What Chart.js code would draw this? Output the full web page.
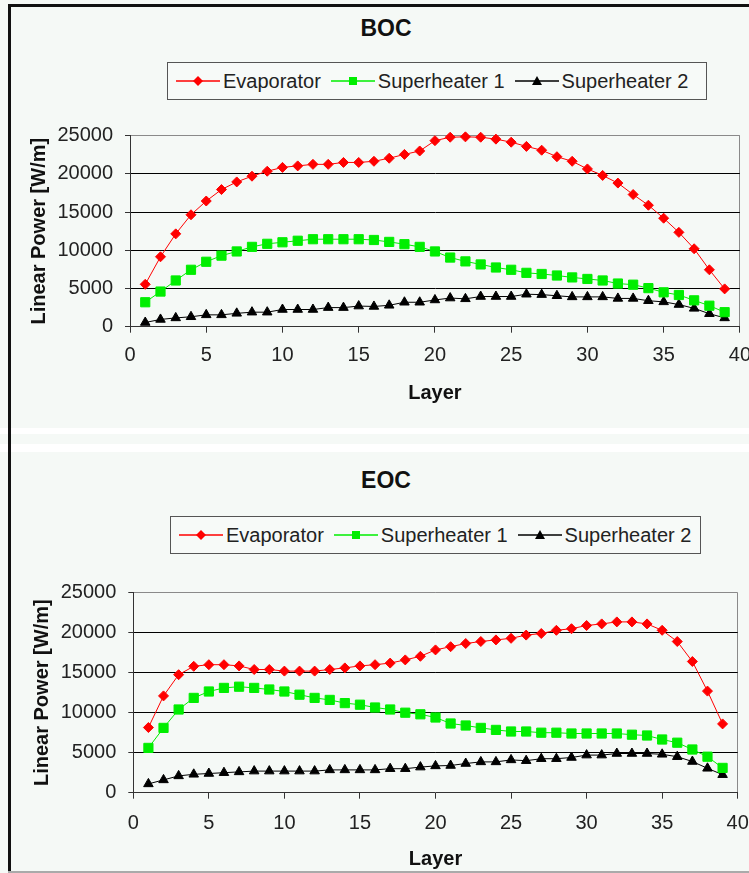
<!DOCTYPE html>
<html lang="en">
<head>
<meta charset="UTF-8">
<title>Linear Power per Layer - BOC / EOC</title>
<script src="https://cdn.jsdelivr.net/npm/chart.js"></script>
<style>
  html, body { margin: 0; padding: 0; }
  body {
    width: 749px; height: 873px; overflow: hidden; position: relative;
    background: #f5f9f6;
    font-family: "Liberation Sans", Arial, sans-serif;
  }
  canvas { position: absolute; left: 0; }
  .frame { position: absolute; background: #111; z-index: 5; }
  .band { position: absolute; left: 0; right: 0; background: #fff; }
  .title {
    position: absolute; left: 0; width: 772px; text-align: center;
    font-weight: bold; font-size: 23px; color: #111; line-height: 26px;
  }
  .legend {
    position: absolute; box-sizing: border-box;
    border: 1px solid #555; background: #f7faf8;
    display: flex; align-items: center; padding-left: 8px;
    font-size: 20px; color: #222; white-space: nowrap;
  }
  .legend .item { display: flex; align-items: center; margin-right: 10px; }
  .legend svg { margin-right: 3px; }
</style>
</head>
<body>

<div class="title" style="top:15px">BOC</div>
<div class="legend" id="legendBoc" style="left:167px; top:62px; width:540px; height:38px"></div>
<canvas id="bocChart" width="762" height="428" style="top:0"></canvas>

<div class="band" style="top:428px; height:6px"></div>
<div class="band" style="top:444px; height:8px"></div>

<div class="title" style="top:467px">EOC</div>
<div class="legend" id="legendEoc" style="left:170px; top:516px; width:531px; height:38px"></div>
<canvas id="eocChart" width="762" height="421" style="top:452px"></canvas>

<div class="frame" style="left:8px; top:4px; right:0; height:3px"></div>
<div class="frame" style="left:8px; top:4px; width:3px; bottom:0"></div>
<div class="frame" style="left:8px; right:0; top:871px; height:2px; background:#aaa"></div>

<script>
// layer numbers on the x axis
const layers = [1, 2, 3, 4, 5, 6, 7, 8, 9, 10, 11, 12, 13, 14, 15, 16, 17, 18, 19, 20,
                21, 22, 23, 24, 25, 26, 27, 28, 29, 30, 31, 32, 33, 34, 35, 36, 37, 38, 39];

const seriesNames = ['Evaporator', 'Superheater 1', 'Superheater 2'];

// BOC linear power [W/m]
const bocEvaporator = [5550, 9150, 12150, 14650, 16450, 17950, 18950, 19700, 20350, 20850,
  21050, 21250, 21250, 21500, 21500, 21650, 22050, 22550, 23000, 24350,
  24800, 24850, 24800, 24550, 24150, 23600, 23100, 22250, 21650, 20650,
  19800, 18800, 17300, 15900, 14200, 12350, 10200, 7450, 4950];
const bocSuperheater1 = [3200, 4600, 6050, 7450, 8500, 9300, 9850, 10450, 10850, 11050,
  11250, 11450, 11450, 11450, 11450, 11350, 11100, 10800, 10450, 9850,
  9050, 8550, 8150, 7750, 7450, 7050, 6900, 6700, 6450, 6250,
  6050, 5650, 5500, 5050, 4500, 4150, 3450, 2750, 1900];
const bocSuperheater2 = [550, 950, 1150, 1300, 1550, 1550, 1750, 1900, 1900, 2250,
  2250, 2250, 2500, 2500, 2700, 2650, 2800, 3200, 3200, 3500,
  3750, 3650, 3950, 3950, 3950, 4250, 4200, 4050, 3900, 3900,
  3900, 3700, 3700, 3400, 3250, 2900, 2400, 1700, 1150];

// EOC linear power [W/m]
const eocEvaporator = [8150, 12100, 14750, 15800, 16000, 16000, 15850, 15400, 15400, 15200,
  15200, 15200, 15400, 15600, 15850, 16000, 16200, 16600, 17050, 17850,
  18250, 18650, 18900, 19100, 19300, 19700, 19900, 20300, 20500, 20900,
  21100, 21350, 21350, 21100, 20300, 18900, 16400, 12700, 8600];
const eocSuperheater1 = [5600, 8100, 10400, 11850, 12650, 13100, 13250, 13100, 12900, 12650,
  12250, 11850, 11600, 11200, 11000, 10650, 10400, 10000, 9800, 9400,
  8650, 8400, 8100, 7850, 7650, 7650, 7500, 7500, 7400, 7400,
  7400, 7400, 7250, 7150, 6650, 6250, 5400, 4500, 3100];
const eocSuperheater2 = [1100, 1600, 2100, 2300, 2400, 2500, 2600, 2700, 2700, 2700,
  2700, 2700, 2850, 2850, 2850, 2850, 3000, 3000, 3200, 3350,
  3400, 3650, 3850, 3850, 4100, 4000, 4250, 4250, 4400, 4700,
  4700, 4900, 4900, 4900, 4800, 4500, 3900, 3050, 2250];

const xTicks = [0, 5, 10, 15, 20, 25, 30, 35, 40];
const yTicks = [0, 5000, 10000, 15000, 20000, 25000];

const colors = ['#ff0000', '#00ee00', '#000000'];
const markers = ['rectRot', 'rect', 'triangle'];
const markerRadius = [5, 6.5, 5.5];
const FONT = '"Liberation Sans", Arial, sans-serif';

function buildLegend(el) {
  const shapes = [
    '<polygon points="22,2 27,7 22,12 17,7" fill="#ff0000"/>',
    '<rect x="18" y="3" width="8" height="8" fill="#00ee00"/>',
    '<polygon points="22,2 27,11 17,11" fill="#000"/>'
  ];
  el.innerHTML = seriesNames.map((name, i) =>
    '<span class="item"><svg width="44" height="14">' +
    '<line x1="0" y1="7" x2="44" y2="7" stroke="' + colors[i] + '" stroke-width="1.3"/>' +
    shapes[i] + '</svg>' + name + '</span>').join('');
}

function makeChart(id, data, a) {
  const datasets = data.map((vals, i) => ({
    label: seriesNames[i],
    data: vals.map((v, k) => ({ x: layers[k], y: v })),
    borderColor: colors[i],
    backgroundColor: colors[i],
    borderWidth: 1,
    pointStyle: markers[i],
    pointRadius: markerRadius[i],
    pointBackgroundColor: colors[i],
    pointBorderColor: colors[i],
    pointBorderWidth: 1,
    tension: 0,
    clip: false
  }));

  new Chart(document.getElementById(id).getContext('2d'), {
    type: 'line',
    data: { datasets },
    options: {
      responsive: false,
      animation: false,
      devicePixelRatio: 1,
      layout: { padding: { left: 0, top: a.top, right: 762 - a.right, bottom: a.height - a.xBoxBottom } },
      plugins: { legend: { display: false }, title: { display: false }, tooltip: { enabled: false } },
      scales: {
        x: {
          type: 'linear', min: 0, max: 40,
          afterBuildTicks: s => { s.ticks = xTicks.map(v => ({ value: v })); },
          ticks: { color: '#222', font: { family: FONT, size: 20 }, padding: a.xTickPad, maxRotation: 0,
                   callback: v => String(v) },
          grid: {
            color: c => c.tick && c.tick.value === 40 ? '#8a8a8a' : 'rgba(0,0,0,0)',
            tickColor: '#333', tickLength: 6, lineWidth: 1
          },
          border: { color: '#333', width: 1 },
          title: { display: true, text: 'Layer', color: '#111',
                   font: { family: FONT, size: 20, weight: 'bold' }, padding: { top: 0, bottom: 2 } },
          afterFit: s => { s.height = a.xBoxBottom - a.bottom; }
        },
        y: {
          min: 0, max: 25000,
          afterBuildTicks: s => { s.ticks = yTicks.map(v => ({ value: v })); },
          ticks: { color: '#222', font: { family: FONT, size: 20 }, padding: a.yTickPad,
                   callback: v => String(v) },
          grid: {
            color: c => c.tick.value === 25000 ? '#8a8a8a' : (c.tick.value === 0 ? 'rgba(0,0,0,0)' : '#000'),
            tickColor: '#333', tickLength: 5, lineWidth: 1
          },
          border: { color: '#333', width: 1 },
          title: { display: true, text: 'Linear Power [W/m]', color: '#111',
                   font: { family: FONT, size: 20, weight: 'bold' }, padding: { top: a.yTitleX - 12, bottom: 0 } },
          afterFit: s => { s.width = a.left; }
        }
      }
    }
  });
}

buildLegend(document.getElementById('legendBoc'));
buildLegend(document.getElementById('legendEoc'));

makeChart('bocChart', [bocEvaporator, bocSuperheater1, bocSuperheater2],
  { left: 130, right: 741.7, top: 135.7, bottom: 326.7, height: 428, xBoxBottom: 407,
    xTickPad: 11, yTickPad: 12, yTitleX: 39 });

makeChart('eocChart', [eocEvaporator, eocSuperheater1, eocSuperheater2],
  { left: 133.3, right: 737.7, top: 140.7, bottom: 340.7, height: 421, xBoxBottom: 421,
    xTickPad: 13, yTickPad: 12, yTitleX: 42.5 });
</script>
</body>
</html>
